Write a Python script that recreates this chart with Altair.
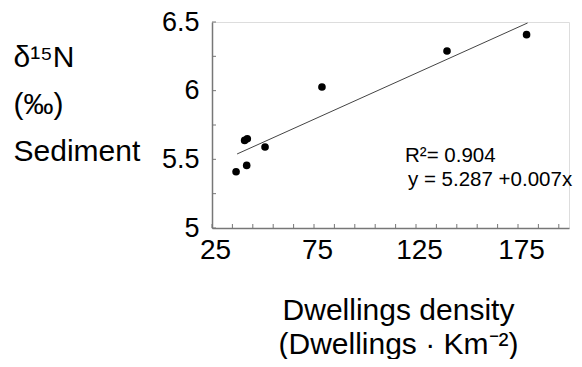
import altair as alt
import pandas as pd

# Data
density = [36.8, 42.0, 41.0, 42.3, 51.0, 78.9, 140.2, 179.2]
d15n = [5.41, 5.456, 5.638, 5.650, 5.590, 6.027, 6.289, 6.408]

fit_x = [37.3, 179.7]
fit_y = [5.539, 6.493]

x_tick_minor = [25, 35, 45, 55, 65, 75, 85, 95, 105, 115, 125, 135, 145, 155, 165, 175, 185, 195]
x_tick_labels = [25, 75, 125, 175]
y_tick_minor = [5.0, 5.25, 5.5, 5.75, 6.0, 6.25, 6.5]
y_tick_labels = [5.0, 5.5, 6.0, 6.5]

r2_text = "R²= 0.904"
eq_text = "y = 5.287 +0.007x"

FONT = "Liberation Sans"
W, H = 357, 206

pts = pd.DataFrame({"x": density, "y": d15n})
fit = pd.DataFrame({"x": fit_x, "y": fit_y})
xt = pd.DataFrame({"x": x_tick_minor})
yt = pd.DataFrame({"y": y_tick_minor})

xscale = alt.Scale(domain=[25, 200], nice=False, zero=False)
yscale = alt.Scale(domain=[5, 6.5], nice=False, zero=False)

x_axis = alt.Axis(
    values=x_tick_labels, ticks=False, grid=False, domainColor="#777", domainWidth=1.5,
    labelFontSize=28, labelFont=FONT, labelColor="#000", labelPadding=8, labelOffset=3,
    labelFlush=False,
    title=["Dwellings density", "(Dwellings · Km⁻²)"], titleFontSize=30, titleFont=FONT,
    titleFontWeight="normal", titleColor="#000", titleLineHeight=34,
    titleX=186, titleY=91, titleAlign="center", titleBaseline="alphabetic",
)
y_axis = alt.Axis(
    values=y_tick_labels, ticks=False, grid=False, domainColor="#777", domainWidth=1.5,
    labelFontSize=27, labelFont=FONT, labelColor="#000", labelPadding=13, format="~g",
    labelFlush=False,
    title=["δ¹⁵N", "(‰)", "Sediment"], titleFontSize=30, titleFont=FONT,
    titleFontWeight="normal", titleColor="#000", titleLineHeight=47,
    titleAngle=0, titleAlign="left", titleBaseline="alphabetic", titleX=-199, titleY=44,
)

points = alt.Chart(pts).mark_circle(color="#000", opacity=1, size=58).encode(
    x=alt.X("x:Q", scale=xscale, axis=x_axis),
    y=alt.Y("y:Q", scale=yscale, axis=y_axis),
)

line = alt.Chart(fit).mark_line(color="#444", strokeWidth=1).encode(
    x=alt.X("x:Q", scale=xscale), y=alt.Y("y:Q", scale=yscale)
)

xticks = alt.Chart(xt).mark_rule(color="#777", strokeWidth=1).encode(
    x=alt.X("x:Q", scale=xscale), y=alt.value(H), y2=alt.value(H - 4)
)
yticks = alt.Chart(yt).mark_rule(color="#777", strokeWidth=1).encode(
    y=alt.Y("y:Q", scale=yscale), x=alt.value(0), x2=alt.value(4)
)

r2 = alt.Chart(pd.DataFrame({"t": [r2_text]})).mark_text(
    font=FONT, fontSize=20.5, align="left", baseline="alphabetic", color="#000"
).encode(text="t:N", x=alt.value(193), y=alt.value(140))

eq = alt.Chart(pd.DataFrame({"t": [eq_text]})).mark_text(
    font=FONT, fontSize=20.5, align="left", baseline="alphabetic", color="#000"
).encode(text="t:N", x=alt.value(196), y=alt.value(164))

chart = alt.layer(line, points, xticks, yticks, r2, eq).properties(
    width=W, height=H, autosize="none",
    padding={"left": 204, "top": 14, "right": 5, "bottom": 131},
).configure_view(stroke=None).configure(background="white")

chart.save("out.html", embed_options={"renderer": "svg", "actions": False})
